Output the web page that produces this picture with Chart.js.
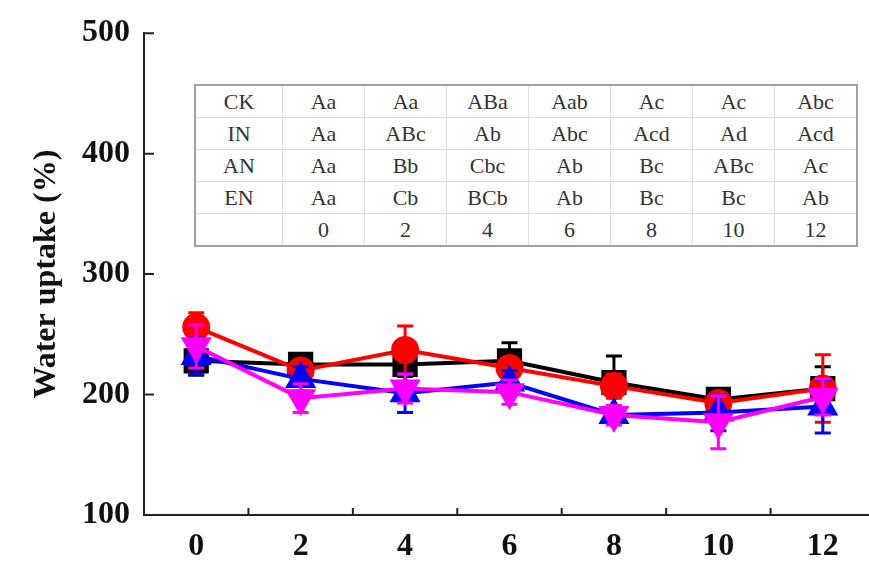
<!DOCTYPE html>
<html>
<head>
<meta charset="utf-8">
<script src="https://cdn.jsdelivr.net/npm/chart.js@4.4.0/dist/chart.umd.min.js"></script>
<style>
  body { margin: 0; background: #fff; overflow: hidden; }
  #wrap { position: relative; width: 869px; height: 563px; overflow: hidden; }
  #chart { position: absolute; left: 0; top: 0; }
  #letters {
    position: absolute; left: 194px; top: 84px;
    border-collapse: collapse; table-layout: fixed;
    border: 2px solid #a0a0a0; background: #fff;
    font-family: "Liberation Serif", serif; font-size: 22px; color: #333;
  }
  #letters td { border: 1px solid #dedede; width: 81px; height: 31px; padding: 0; text-align: center; }
  #letters td:first-child { width: 86px; }
</style>
</head>
<body>
<div id="wrap">
  <canvas id="chart" width="894" height="563"></canvas>
  <table id="letters"></table>
</div>
<script>
const days = ["0", "2", "4", "6", "8", "10", "12"];
const treatments = ["CK", "IN", "AN", "EN"];

// water uptake (%), mean and error
const ckValues = [228, 225, 225, 228, 210, 196, 205];
const ckErrors = [12, 8, 10, 15, 22, 8, 18];
const inValues = [256, 220, 237, 222, 207, 193, 205];
const inErrors = [12, 5, 20, 8, 10, 6, 28];
const anValues = [232, 213, 201, 210, 183, 185, 190];
const anErrors = [15, 10, 16, 10, 8, 15, 22];
const enValues = [240, 197, 205, 202, 183, 177, 198];
const enErrors = [18, 12, 12, 10, 8, 22, 15];

// significance letters per day
const ckLetters = ["Aa", "Aa", "ABa", "Aab", "Ac", "Ac", "Abc"];
const inLetters = ["Aa", "ABc", "Ab", "Abc", "Acd", "Ad", "Acd"];
const anLetters = ["Aa", "Bb", "Cbc", "Ab", "Bc", "ABc", "Ac"];
const enLetters = ["Aa", "Cb", "BCb", "Ab", "Bc", "Bc", "Ab"];

const yTicks = [100, 200, 300, 400, 500];

// letters table
const table = document.getElementById("letters");
[ckLetters, inLetters, anLetters, enLetters].forEach((row, r) => {
  const tr = table.insertRow();
  tr.insertCell().textContent = treatments[r];
  row.forEach(t => { tr.insertCell().textContent = t; });
});
const lastRow = table.insertRow();
lastRow.insertCell().textContent = "";
days.forEach(d => { lastRow.insertCell().textContent = d; });

const serif = '"Liberation Serif", "Times New Roman", serif';

const errorBars = {
  id: "errorBars",
  beforeDatasetDraw(chart, args) {
    const ds = chart.data.datasets[args.index];
    const errs = ds.errs;
    const y = chart.scales.y;
    const ctx = chart.ctx;
    ctx.save();
    ctx.strokeStyle = ds.borderColor;
    ctx.lineWidth = 3;
    ctx.beginPath();
    args.meta.data.forEach((pt, i) => {
      const top = y.getPixelForValue(ds.data[i] + errs[i]);
      const bot = y.getPixelForValue(ds.data[i] - errs[i]);
      ctx.moveTo(pt.x, top); ctx.lineTo(pt.x, bot);
      ctx.moveTo(pt.x - 8, top); ctx.lineTo(pt.x + 8, top);
      ctx.moveTo(pt.x - 8, bot); ctx.lineTo(pt.x + 8, bot);
    });
    ctx.stroke();
    ctx.restore();
  }
};

const innerTicks = {
  id: "innerTicks",
  afterDraw(chart) {
    const { ctx, scales: { x, y } } = chart;
    ctx.save();
    ctx.strokeStyle = "#222";
    ctx.lineWidth = 2;
    ctx.beginPath();
    y.ticks.forEach(t => {
      if (t.value === 100) return;
      const py = y.getPixelForValue(t.value);
      ctx.moveTo(y.right, py); ctx.lineTo(y.right + 10, py);
    });
    for (let i = 1; i < days.length; i++) {
      const px = (x.getPixelForTick(i - 1) + x.getPixelForTick(i)) / 2;
      ctx.moveTo(px, x.top); ctx.lineTo(px, x.top - 7);
    }
    ctx.stroke();
    ctx.restore();
  }
};

function series(label, values, errs, color, style, rot, radius, order) {
  return {
    label: label,
    data: values,
    errs: errs,
    borderColor: color,
    backgroundColor: color,
    pointBackgroundColor: color,
    pointBorderColor: color,
    pointStyle: style,
    pointRotation: rot,
    pointRadius: radius,
    borderWidth: 4,
    order: order
  };
}

new Chart(document.getElementById("chart"), {
  type: "line",
  data: {
    labels: days,
    datasets: [
      series("CK", ckValues, ckErrors, "#000000", "rect", 0, 15, 4),
      series("IN", inValues, inErrors, "#ff0000", "circle", 0, 12, 3),
      series("AN", anValues, anErrors, "#0000ff", "triangle", 0, 14, 2),
      series("EN", enValues, enErrors, "#ff00ff", "triangle", 180, 14, 1)
    ]
  },
  options: {
    responsive: false,
    animation: false,
    layout: { padding: { top: 33, right: 4, left: 0, bottom: 0 } },
    plugins: { legend: { display: false }, tooltip: { enabled: false } },
    scales: {
      x: {
        offset: true,
        grid: { display: true, drawOnChartArea: false, drawTicks: false },
        border: { display: true, color: "#222", width: 2 },
        ticks: { color: "#111", padding: 13, font: { family: serif, size: 32, weight: "bold" } },
        afterFit(scale) { scale.height = 48; }
      },
      y: {
        min: 100,
        max: 500,
        afterBuildTicks(scale) { scale.ticks = yTicks.map(v => ({ value: v })); },
        grid: { display: true, drawOnChartArea: false, drawTicks: false },
        border: { display: true, color: "#222", width: 2 },
        ticks: { color: "#111", padding: 14, font: { family: serif, size: 32, weight: "bold" } },
        title: {
          display: true,
          text: "Water uptake (%)",
          color: "#111",
          padding: { top: 28, bottom: 0 },
          font: { family: serif, size: 32, weight: "bold" }
        },
        afterFit(scale) { scale.width = 144; }
      }
    }
  },
  plugins: [errorBars, innerTicks]
});
</script>
</body>
</html>
